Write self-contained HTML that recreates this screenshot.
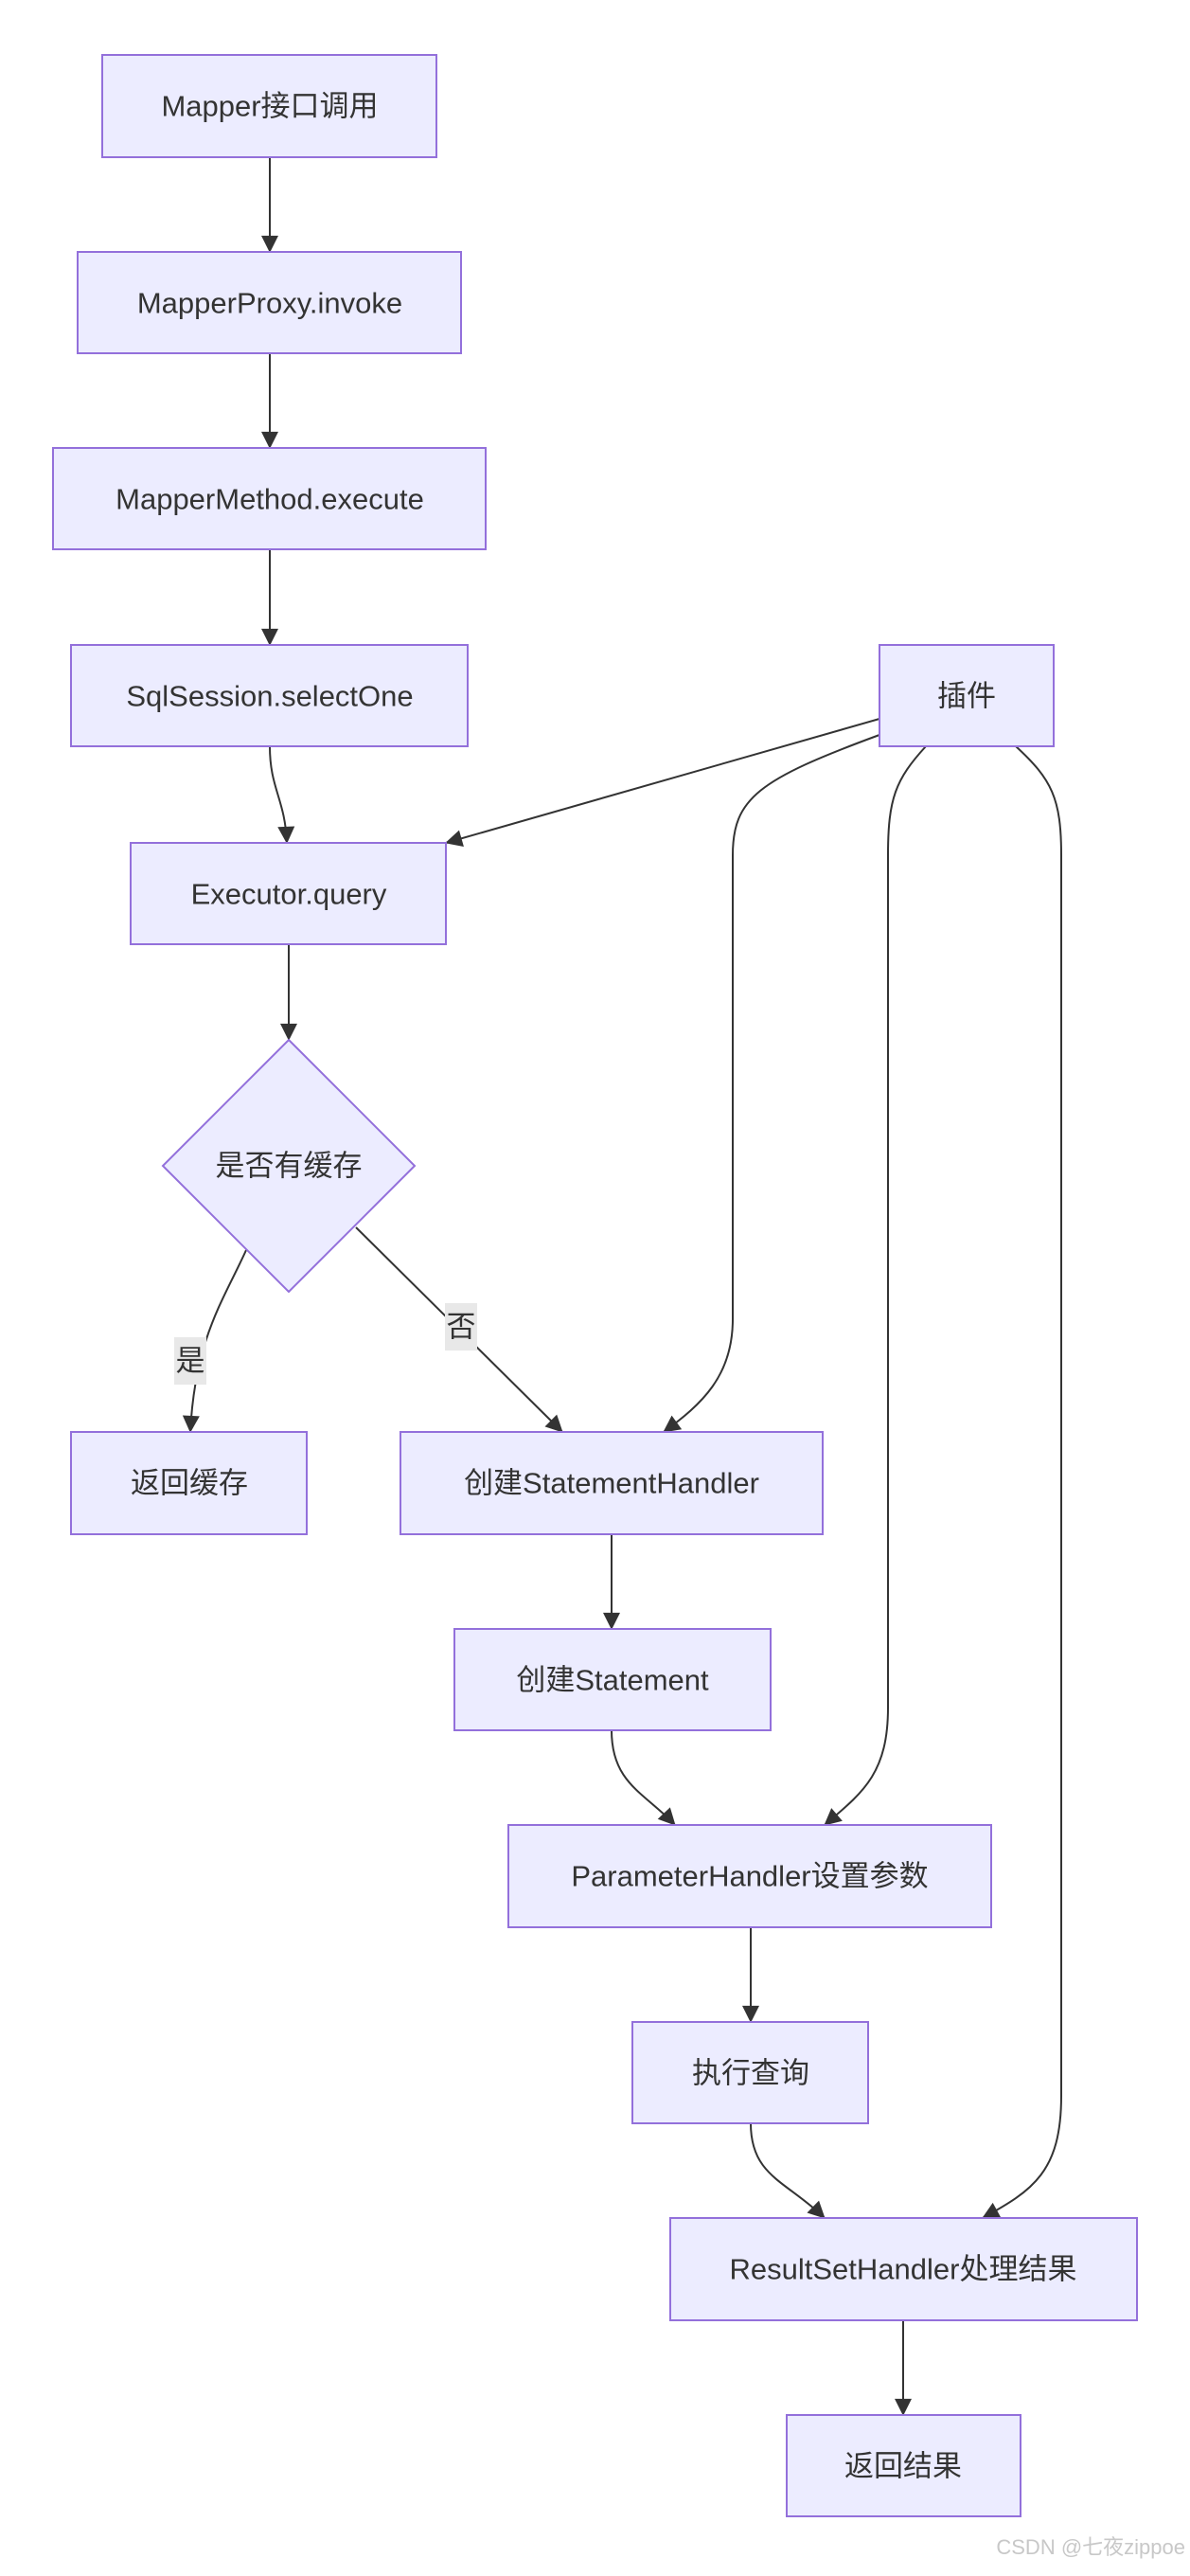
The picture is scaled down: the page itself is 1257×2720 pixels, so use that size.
<!DOCTYPE html>
<html><head><meta charset="utf-8"><style>
html,body{margin:0;padding:0;background:#fff;}
svg text{font-family:"Liberation Sans","Noto Sans CJK SC",sans-serif;fill:#333;}
</style></head><body>
<svg width="1257" height="2715" viewBox="0 0 1257 2715" xmlns="http://www.w3.org/2000/svg">
<defs>
<marker id="a" viewBox="0 0 10 10" refX="9" refY="5" markerWidth="9" markerHeight="9" markerUnits="userSpaceOnUse" orient="auto" style="overflow:visible">
<path d="M0,0 L10,5 L0,10 z" fill="#333" transform="scale(2)" transform-origin="10 5"/>
</marker>
</defs>
<g transform="translate(1,3)">
<g fill="none" stroke="#333" stroke-width="2" marker-end="url(#a)">
<path d="M284,163 L284,263"/>
<path d="M284,370 L284,470"/>
<path d="M284,577 L284,678"/>
<path d="M284,785 C284,830 300,840 302,887"/>
<path d="M304,994 L304,1095"/>
<path d="M259,1317 C235,1370 205,1410 200,1509"/>
<path d="M375,1293 L593,1509"/>
<path d="M928,756 L470,887"/>
<path d="M928,773 C800,820 773,840 773,900 L773,1390 C773,1450 740,1480 700,1509"/>
<path d="M977,785 C945,820 937,840 937,900 L937,1800 C937,1870 910,1890 870,1924"/>
<path d="M1072,785 C1110,820 1120,840 1120,900 L1120,2210 C1120,2290 1090,2310 1037,2339"/>
<path d="M645,1617 L645,1717"/>
<path d="M645,1824 C645,1880 680,1890 712,1924"/>
<path d="M792,2032 L792,2132"/>
<path d="M792,2239 C792,2295 830,2300 870,2339"/>
<path d="M953,2447 L953,2547"/>
</g>
<g fill="#ECECFF" stroke="#9370DB" stroke-width="2">
<rect x="107" y="55" width="353" height="108"/>
<rect x="81" y="263" width="405" height="107"/>
<rect x="55" y="470" width="457" height="107"/>
<rect x="74" y="678" width="419" height="107"/>
<rect x="928" y="678" width="184" height="107"/>
<rect x="137" y="887" width="333" height="107"/>
<polygon points="304,1095 437,1228 304,1361 171,1228"/>
<rect x="74" y="1509" width="249" height="108"/>
<rect x="422" y="1509" width="446" height="108"/>
<rect x="479" y="1717" width="334" height="107"/>
<rect x="536" y="1924" width="510" height="108"/>
<rect x="667" y="2132" width="249" height="107"/>
<rect x="707" y="2339" width="493" height="108"/>
<rect x="830" y="2547" width="247" height="107"/>
</g>
<rect x="183" y="1409" width="34" height="50" fill="#e8e8e8"/>
<rect x="469" y="1373" width="34" height="50" fill="#e8e8e8"/>
<g font-size="31" text-anchor="middle" dominant-baseline="central">
<text x="284" y="109">Mapper接口调用</text>
<text x="284" y="317">MapperProxy.invoke</text>
<text x="284" y="524">MapperMethod.execute</text>
<text x="284" y="732">SqlSession.selectOne</text>
<text x="1020" y="732">插件</text>
<text x="304" y="941">Executor.query</text>
<text x="304" y="1228">是否有缓存</text>
<text x="200" y="1434">是</text>
<text x="486" y="1398">否</text>
<text x="199" y="1563">返回缓存</text>
<text x="645" y="1563">创建StatementHandler</text>
<text x="646" y="1771">创建Statement</text>
<text x="791" y="1978">ParameterHandler设置参数</text>
<text x="792" y="2186">执行查询</text>
<text x="953" y="2393">ResultSetHandler处理结果</text>
<text x="953" y="2601">返回结果</text>
</g>
</g>
<text x="1252" y="2697" font-size="22" text-anchor="end" style="fill:#c8c8c8">CSDN @七夜zippoe</text>
</svg>
</body></html>
